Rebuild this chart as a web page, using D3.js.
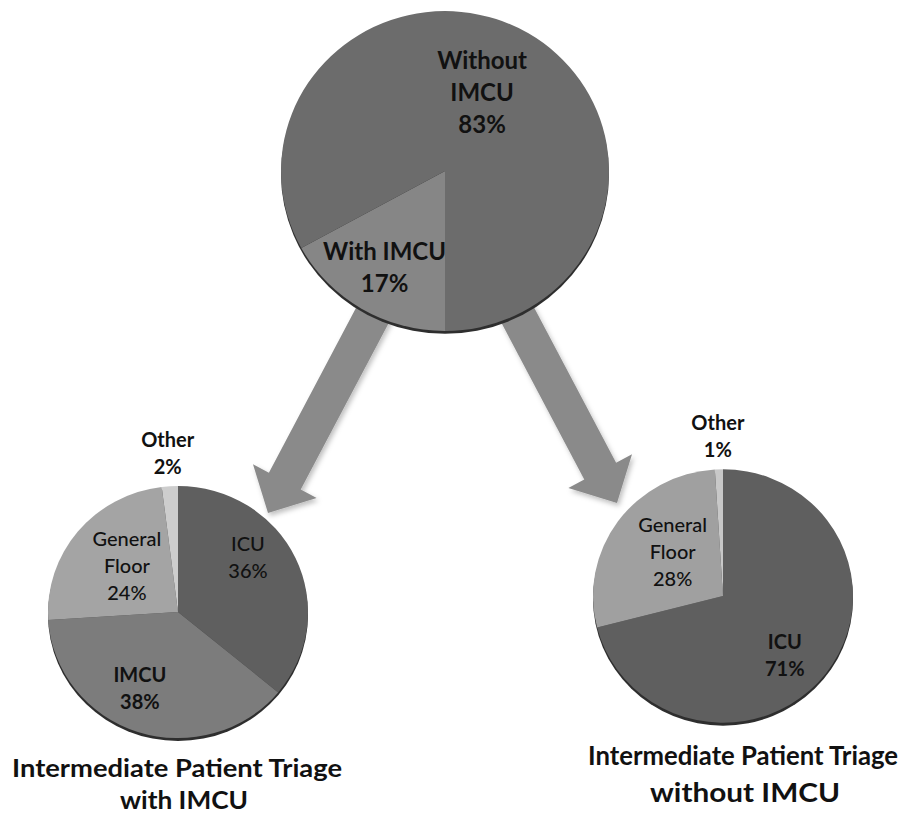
<!DOCTYPE html>
<html>
<head>
<meta charset="utf-8">
<script src="https://cdn.jsdelivr.net/npm/d3@7"></script>
<style>
  html, body { margin: 0; padding: 0; background: #ffffff; }
  svg { display: block; }
  text { font-family: Lato, "Open Sans", sans-serif; fill: #111; }
</style>
</head>
<body>
<div id="chart"></div>
<script>
// ---------------- DATA ----------------
const topCategories = ["With IMCU", "Without IMCU"];
const topValues = [17, 83];
const topLabelLines = [["With IMCU", "17%"], ["Without", "IMCU", "83%"]];

const withCategories = ["ICU", "IMCU", "General Floor", "Other"];
const withValues = [36, 38, 24, 2];
const withLabelLines = [["ICU", "36%"], ["IMCU", "38%"], ["General", "Floor", "24%"], ["Other", "2%"]];

const withoutCategories = ["ICU", "General Floor", "Other"];
const withoutValues = [71, 28, 1];
const withoutLabelLines = [["ICU", "71%"], ["General", "Floor", "28%"], ["Other", "1%"]];

const titleWith = ["Intermediate Patient Triage", "with IMCU"];
const titleWithout = ["Intermediate Patient Triage", "without IMCU"];

// ---------------- LAYOUT ----------------
const W = 921, H = 815;
const svg = d3.select("#chart").append("svg").attr("width", W).attr("height", H);

const defs = svg.append("defs");
const f = defs.append("filter").attr("id", "shadow").attr("x", "-20%").attr("y", "-20%").attr("width", "140%").attr("height", "140%");
f.append("feDropShadow").attr("dx", 2).attr("dy", 3).attr("stdDeviation", 2.5)
  .attr("flood-color", "#000").attr("flood-opacity", 0.25);

// arrows (drawn behind the pies)
const arrows = [
  { start: [408, 248], tip: [268, 513] },
  { start: [477, 238], tip: [617, 503] }
];
const shaftW = 36, headW = 72, headL = 36;
arrows.forEach(a => {
  const dx = a.tip[0] - a.start[0], dy = a.tip[1] - a.start[1];
  const len = Math.hypot(dx, dy);
  const ux = dx / len, uy = dy / len, px = -uy, py = ux;
  const b = [a.tip[0] - ux * headL, a.tip[1] - uy * headL];
  const pts = [
    [a.start[0] + px * shaftW / 2, a.start[1] + py * shaftW / 2],
    [b[0] + px * shaftW / 2, b[1] + py * shaftW / 2],
    [b[0] + px * headW / 2, b[1] + py * headW / 2],
    a.tip,
    [b[0] - px * headW / 2, b[1] - py * headW / 2],
    [b[0] - px * shaftW / 2, b[1] - py * shaftW / 2],
    [a.start[0] - px * shaftW / 2, a.start[1] - py * shaftW / 2]
  ];
  svg.append("path").attr("d", d3.line()(pts) + "Z")
    .attr("fill", "#8a8a8a").attr("filter", "url(#shadow)");
});

function drawPie(cfg) {
  const g = svg.append("g").attr("transform", `translate(${cfg.cx},${cfg.cy}) scale(1,${cfg.sy})`);
  const pie = d3.pie().sort(null).value(d => d.v)
    .startAngle(cfg.start).endAngle(cfg.start + 2 * Math.PI);
  const data = cfg.cats.map((c, i) => ({ c, v: cfg.vals[i], i }));
  const arcs = pie(data);
  const arc = d3.arc().innerRadius(0).outerRadius(cfg.r);
  // dark rim underneath (3D look)
  g.append("ellipse").attr("cx", 0).attr("cy", cfg.rim).attr("rx", cfg.r).attr("ry", cfg.r)
    .attr("fill", "#2e2e2e");
  g.selectAll("path.slice").data(arcs).join("path").attr("class", "slice")
    .attr("d", arc).attr("fill", d => cfg.colors[d.index]);

  // labels (unscaled group)
  const lg = svg.append("g").attr("transform", `translate(${cfg.cx},${cfg.cy})`);
  arcs.forEach((d, i) => {
    const rr = cfg.r * cfg.lab[i].ratio;
    const la = d3.arc().innerRadius(rr).outerRadius(rr);
    const c = la.centroid(d);
    const x = c[0] + cfg.lab[i].dx;
    const y = c[1] * cfg.sy + cfg.lab[i].dy;
    const lines = cfg.lines[i];
    const fs = cfg.fs, lh = cfg.lh;
    const first = y - (lines.length - 1) * lh / 2 + fs * 0.36;
    const t = lg.append("text").attr("text-anchor", "middle")
      .attr("font-size", fs).attr("font-weight", cfg.lab[i].w || "bold");
    lines.forEach((ln, k) => {
      t.append("tspan").attr("x", x).attr("y", first + k * lh).text(ln);
    });
  });
}

drawPie({
  cx: 445, cy: 171, r: 164, sy: 0.975, rim: 3, start: Math.PI,
  cats: topCategories, vals: topValues, lines: topLabelLines,
  colors: ["#868686", "#6c6c6c"], fs: 24, lh: 32,
  lab: [{ ratio: 0.7, dx: -2, dy: 0 }, { ratio: 0.54, dx: -8, dy: -4 }]
});

drawPie({
  cx: 178, cy: 612, r: 130, sy: 0.97, rim: 3, start: 0,
  cats: withCategories, vals: withValues, lines: withLabelLines,
  colors: ["#5f5f5f", "#7c7c7c", "#a4a4a4", "#cdcdcd"], fs: 20, lh: 27,
  lab: [{ ratio: 0.65, dx: -6.5, dy: -20, w: 500 }, { ratio: 0.65, dx: -12, dy: -1.5 },
        { ratio: 0.65, dx: 14, dy: 6, w: 500 }, { ratio: 1.26, dx: 0, dy: 0 }]
});

drawPie({
  cx: 723, cy: 596, r: 130, sy: 0.975, rim: 3, start: 0,
  cats: withoutCategories, vals: withoutValues, lines: withoutLabelLines,
  colors: ["#5f5f5f", "#a0a0a0", "#c8c8c8"], fs: 20, lh: 27,
  lab: [{ ratio: 0.65, dx: -5, dy: 8.5 }, { ratio: 0.65, dx: 18, dy: 4.5, w: 500 },
        { ratio: 1.26, dx: 0, dy: 0 }]
});

// titles
function title(lines, x, y0, lh, widths, fs) {
  lines.forEach((ln, k) => {
    svg.append("text").attr("text-anchor", "middle").attr("font-size", fs).attr("font-weight", "bold")
      .attr("x", x[k]).attr("y", y0 + k * lh)
      .attr("textLength", widths[k]).attr("lengthAdjust", "spacingAndGlyphs").text(ln);
  });
}
title(titleWith, [177, 184], 777, 32, [330, 128], 25);
title(titleWithout, [743, 745], 765, 37, [310, 190], 26);
</script>
</body>
</html>
